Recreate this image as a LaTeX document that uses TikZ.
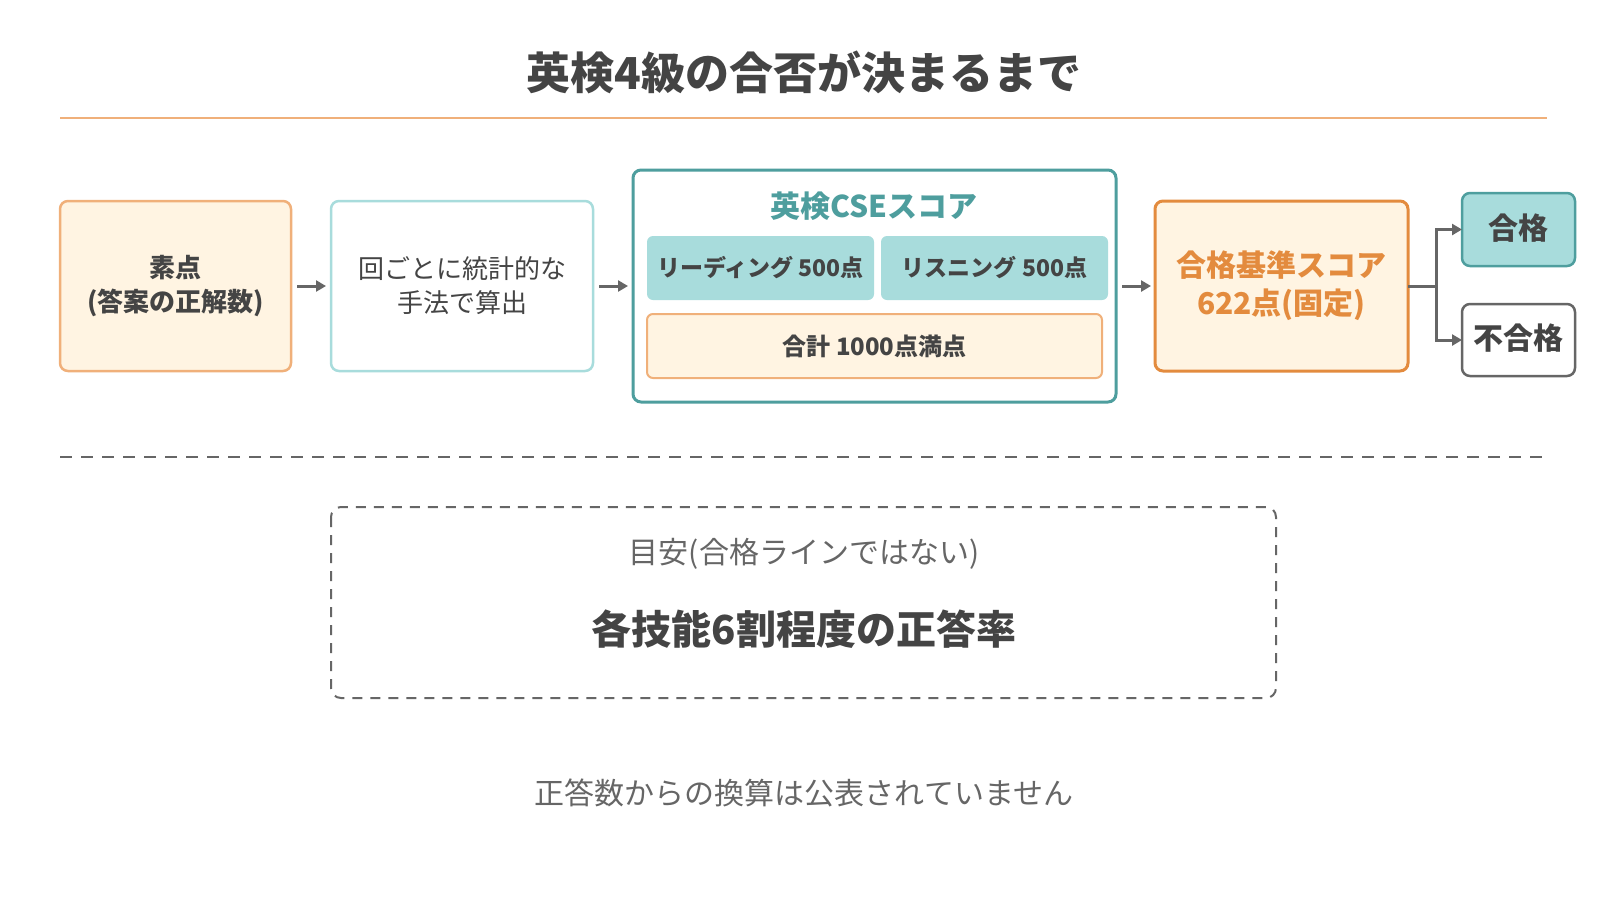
\documentclass[tikz,border=0pt]{standalone}
\usepackage{fontspec}
\setmainfont{Noto Sans CJK JP}
\begin{document}
\begin{tikzpicture}[x=1pt,y=-1pt,
  box/.style={rounded corners=8pt,line width=2.5pt},
  t/.style={text=dark,font=\bfseries\fontsize{26}{34}\selectfont,align=center},
  arr/.style={draw=arrg,line width=3pt,-{Triangle[length=10pt,width=11pt]}}]
\usetikzlibrary{arrows.meta}
\definecolor{dark}{HTML}{444444}
\definecolor{org}{HTML}{E38B3E}
\definecolor{lorg}{HTML}{F0B07A}
\definecolor{cream}{HTML}{FFF4E2}
\definecolor{teal}{HTML}{4E9E9E}
\definecolor{lteal}{HTML}{A8DCDC}
\definecolor{arrg}{HTML}{666666}
\definecolor{gry}{HTML}{666666}
\useasboundingbox[fill=white] (0,0) rectangle (1600,900);
\node[t,font=\bfseries\fontsize{44}{50}\selectfont] (title) at (804,72) {英検4級の合否が決まるまで};
\draw[draw=lorg,line width=2.5pt] (60,118) coordinate (l1) -- (1547,118) coordinate (l2);
\draw[box,draw=lorg,fill=cream] (60,201) rectangle (291,371);
\node[t] (b1) at (175.5,286) {素点\\(答案の正解数)};
\draw[box,draw=lteal,fill=white] (331,201) rectangle (593,371);
\node[t,font=\fontsize{26}{34}\selectfont] (b2) at (462,286) {回ごとに統計的な\\手法で算出};
\draw[box,draw=teal,line width=3pt,fill=white] (633,170) rectangle (1116,402);
\node[t,text=teal,font=\bfseries\fontsize{30}{34}\selectfont] (cse) at (874,206) {英検CSEスコア};
\draw[rounded corners=6pt,fill=lteal,draw=none] (647,236) rectangle (874,300);
\node[t,font=\bfseries\fontsize{23}{28}\selectfont] (rd) at (760.5,268) {リーディング 500点};
\draw[rounded corners=6pt,fill=lteal,draw=none] (881,236) rectangle (1108,300);
\node[t,font=\bfseries\fontsize{23}{28}\selectfont] (ls) at (994.5,268) {リスニング 500点};
\draw[rounded corners=6pt,fill=cream,draw=lorg,line width=2pt] (647,314) rectangle (1102,378);
\node[t,font=\bfseries\fontsize{24}{28}\selectfont] (tot) at (874.5,346) {合計 1000点満点};
\draw[box,draw=org,line width=3pt,fill=cream] (1155,201) rectangle (1408,371);
\node[t,text=org,font=\bfseries\fontsize{30}{38}\selectfont] (b4) at (1281.5,286) {合格基準スコア\\622点(固定)};
\draw[box,draw=teal,fill=lteal] (1462,193) rectangle (1575,266);
\node[t,font=\bfseries\fontsize{30}{34}\selectfont] (pass) at (1518.5,228) {合格};
\draw[box,draw=gry,fill=white] (1462,304) rectangle (1575,376);
\node[t,font=\bfseries\fontsize{30}{34}\selectfont] (fail) at (1518.5,338) {不合格};
\coordinate (a1) at (297,286); \coordinate (a2) at (326,286);
\draw[arr] (a1) -- (a2);
\coordinate (a3) at (599,286); \coordinate (a4) at (628,286);
\draw[arr] (a3) -- (a4);
\coordinate (a5) at (1122,286); \coordinate (a6) at (1151,286);
\draw[arr] (a5) -- (a6);
\coordinate (s0) at (1408,286); \coordinate (s1) at (1436,286);
\coordinate (p1) at (1436,229.5); \coordinate (p2) at (1462,229.5);
\coordinate (f1) at (1436,340); \coordinate (f2) at (1462,340);
\draw[draw=arrg,line width=3pt] (s0) -- (s1);
\draw[arr] (s1) -- (p1) -- (p2);
\draw[arr] (s1) -- (f1) -- (f2);
\draw[draw=gry,line width=2pt,dash pattern=on 12pt off 9pt] (60,457) coordinate (d1) -- (1547,457) coordinate (d2);
\draw[draw=gry,line width=2pt,dash pattern=on 10pt off 8pt,rounded corners=10pt] (331,507) rectangle (1276,698);
\node[t,font=\fontsize{30}{34}\selectfont,text=gry] (g1) at (804,554) {目安(合格ラインではない)};
\node[t,font=\bfseries\fontsize{40}{46}\selectfont] (g2) at (804,629) {各技能6割程度の正答率};
\node[t,font=\fontsize{30}{34}\selectfont,text=gry] (note) at (804,793) {正答数からの換算は公表されていません};
\end{tikzpicture}
\end{document}
